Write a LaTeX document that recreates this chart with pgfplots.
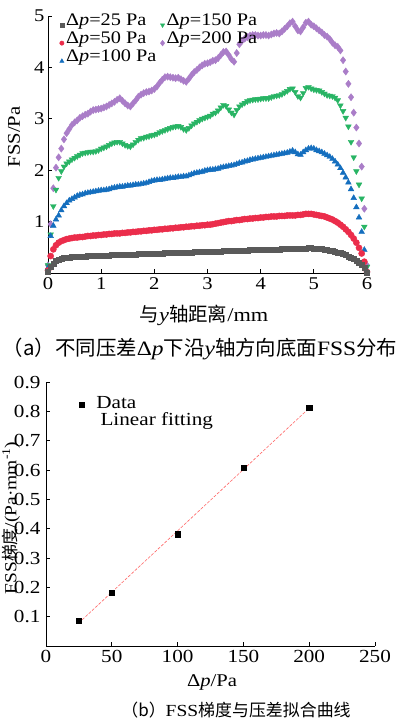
\documentclass[border=0pt]{standalone}
\usepackage{pgfplots}
\pgfplotsset{compat=1.18}
\usepackage{pgfplotstable}
\usepackage{fontspec}
\setmainfont{Liberation Serif}[FakeStretch=1.15]
\newfontfamily\cjk{Noto Sans CJK SC}
\newcommand{\C}[1]{{\cjk #1}}
\definecolor{cA}{RGB}{90,90,90}
\definecolor{cB}{RGB}{235,45,75}
\definecolor{cC}{RGB}{20,110,190}
\definecolor{cD}{RGB}{40,180,100}
\definecolor{cE}{RGB}{170,125,200}
\pgfplotstableread{
x a b c d e
0.00 0.02 0.05 0.10 0.15 0.15
0.05 0.13 0.33 0.72 0.75 0.95
0.10 0.19 0.46 0.92 1.30 1.65
0.15 0.23 0.54 1.04 1.62 2.05
0.20 0.26 0.59 1.12 1.85 2.25
0.25 0.28 0.62 1.22 1.98 2.42
0.30 0.29 0.64 1.30 2.07 2.60
0.35 0.30 0.66 1.36 2.13 2.72
0.40 0.30 0.67 1.41 2.17 2.80
0.45 0.31 0.68 1.44 2.21 2.88
0.50 0.31 0.69 1.47 2.24 2.93
0.55 0.32 0.69 1.50 2.27 2.97
0.60 0.32 0.70 1.52 2.30 3.02
0.65 0.32 0.70 1.53 2.33 3.05
0.70 0.32 0.71 1.55 2.34 3.08
0.75 0.33 0.72 1.56 2.35 3.10
0.80 0.33 0.72 1.57 2.36 3.14
0.85 0.33 0.73 1.58 2.36 3.17
0.90 0.33 0.73 1.59 2.37 3.18
0.95 0.34 0.74 1.60 2.39 3.19
1.00 0.34 0.74 1.61 2.42 3.20
1.05 0.34 0.75 1.61 2.44 3.22
1.10 0.34 0.75 1.62 2.46 3.24
1.15 0.34 0.76 1.63 2.49 3.27
1.20 0.35 0.76 1.65 2.52 3.30
1.25 0.35 0.77 1.66 2.54 3.33
1.30 0.35 0.77 1.67 2.55 3.37
1.35 0.35 0.77 1.68 2.55 3.40
1.40 0.35 0.78 1.68 2.52 3.35
1.45 0.36 0.78 1.69 2.49 3.30
1.50 0.36 0.79 1.70 2.47 3.26
1.55 0.36 0.79 1.70 2.46 3.24
1.60 0.36 0.80 1.71 2.50 3.30
1.65 0.36 0.80 1.72 2.55 3.36
1.70 0.37 0.81 1.72 2.59 3.43
1.75 0.37 0.81 1.73 2.62 3.47
1.80 0.37 0.82 1.74 2.63 3.50
1.85 0.37 0.82 1.75 2.65 3.52
1.90 0.37 0.83 1.77 2.66 3.53
1.95 0.38 0.83 1.79 2.68 3.55
2.00 0.38 0.84 1.80 2.69 3.58
2.05 0.38 0.84 1.81 2.71 3.63
2.10 0.38 0.85 1.81 2.74 3.70
2.15 0.38 0.85 1.82 2.76 3.76
2.20 0.39 0.86 1.83 2.78 3.81
2.25 0.39 0.86 1.84 2.80 3.82
2.30 0.39 0.87 1.85 2.82 3.81
2.35 0.39 0.87 1.85 2.84 3.80
2.40 0.39 0.88 1.86 2.85 3.79
2.45 0.40 0.88 1.87 2.86 3.80
2.50 0.40 0.89 1.87 2.84 3.77
2.55 0.40 0.89 1.88 2.80 3.74
2.60 0.40 0.90 1.88 2.78 3.72
2.65 0.40 0.90 1.90 2.82 3.78
2.70 0.40 0.91 1.92 2.87 3.85
2.75 0.41 0.91 1.94 2.91 3.91
2.80 0.41 0.92 1.95 2.94 3.95
2.85 0.41 0.92 1.96 2.97 4.00
2.90 0.41 0.93 1.97 3.00 4.04
2.95 0.41 0.93 1.99 3.02 4.07
3.00 0.41 0.94 2.00 3.04 4.08
3.05 0.42 0.94 2.01 3.06 4.10
3.10 0.42 0.95 2.01 3.10 4.13
3.15 0.42 0.96 2.02 3.12 4.14
3.20 0.42 0.97 2.03 3.16 4.18
3.25 0.42 0.98 2.05 3.22 4.24
3.30 0.43 0.99 2.06 3.27 4.30
3.35 0.43 1.00 2.07 3.25 4.31
3.40 0.43 1.01 2.08 3.18 4.24
3.45 0.43 1.01 2.09 3.12 4.16
3.50 0.43 1.02 2.10 3.08 4.11
3.55 0.44 1.03 2.12 3.17 4.28
3.60 0.44 1.03 2.14 3.24 4.45
3.65 0.44 1.04 2.15 3.28 4.52
3.70 0.44 1.05 2.17 3.31 4.56
3.75 0.44 1.05 2.18 3.34 4.59
3.80 0.45 1.06 2.20 3.36 4.62
3.85 0.45 1.06 2.21 3.37 4.63
3.90 0.45 1.07 2.22 3.38 4.63
3.95 0.45 1.07 2.23 3.38 4.62
4.00 0.45 1.08 2.24 3.39 4.62
4.05 0.45 1.08 2.25 3.40 4.63
4.10 0.46 1.09 2.26 3.40 4.63
4.15 0.46 1.09 2.27 3.40 4.62
4.20 0.46 1.10 2.28 3.42 4.64
4.25 0.46 1.10 2.29 3.44 4.66
4.30 0.46 1.10 2.30 3.45 4.67
4.35 0.46 1.11 2.31 3.46 4.66
4.40 0.47 1.11 2.32 3.48 4.70
4.45 0.47 1.11 2.33 3.51 4.75
4.50 0.47 1.12 2.34 3.54 4.80
4.55 0.47 1.12 2.36 3.58 4.86
4.60 0.47 1.12 2.38 3.59 4.89
4.65 0.47 1.12 2.35 3.52 4.80
4.70 0.48 1.13 2.31 3.44 4.72
4.75 0.48 1.13 2.30 3.41 4.70
4.80 0.48 1.14 2.35 3.50 4.78
4.85 0.48 1.15 2.39 3.60 4.87
4.90 0.49 1.15 2.42 3.62 4.89
4.95 0.49 1.15 2.43 3.59 4.83
5.00 0.48 1.14 2.42 3.57 4.80
5.05 0.48 1.13 2.39 3.56 4.76
5.10 0.47 1.12 2.37 3.55 4.72
5.15 0.47 1.11 2.35 3.52 4.68
5.20 0.46 1.10 2.32 3.49 4.63
5.25 0.45 1.08 2.29 3.46 4.60
5.30 0.44 1.06 2.26 3.45 4.55
5.35 0.43 1.04 2.22 3.44 4.48
5.40 0.42 1.01 2.17 3.41 4.43
5.45 0.40 0.98 2.11 3.36 4.40
5.50 0.39 0.94 2.04 3.26 4.33
5.55 0.37 0.90 1.95 3.15 4.14
5.60 0.35 0.85 1.86 3.02 3.92
5.65 0.32 0.80 1.76 2.85 3.68
5.70 0.30 0.74 1.63 2.55 3.42
5.75 0.27 0.67 1.46 2.25 3.12
5.80 0.24 0.59 1.28 1.98 2.83
5.85 0.20 0.49 1.08 1.72 2.52
5.90 0.16 0.38 0.80 1.45 2.07
5.95 0.10 0.22 0.45 0.90 1.25
6.00 0.01 0.02 0.05 0.12 0.15
}\fss
\pgfplotstableread{
x y
25 0.085
50 0.183
100 0.381
150 0.608
200 0.812
}\grad
\begin{document}
\begin{tikzpicture}
\useasboundingbox (0bp,0bp) rectangle (407bp,-723bp);
% ---------- top panel ----------
\begin{axis}[
  at={(48bp,-273bp)}, anchor=south west,
  scale only axis, width=319bp, height=257bp,
  xmin=0, xmax=6, ymin=0, ymax=5,
  axis x line*=bottom, axis y line*=left,
  axis line style={line width=0.9bp},
  tick align=inside, major tick length=4bp,
  tick style={line width=0.9bp, black},
  xtick={0,1,...,6}, ytick={1,2,...,5},
  /pgf/number format/assume math mode=true,
  ticklabel style={font=\fontsize{18}{18}\selectfont},
  xticklabel style={yshift=-1bp},
  clip=false,
  legend columns=2,
  legend style={at={(0.036,1.012)}, anchor=north west, draw=none, fill=none,
    font=\fontsize{17.7}{17.7}\selectfont, inner sep=0pt, row sep=2bp,
    nodes={inner sep=0pt, text height=12bp, text depth=4bp},
    /tikz/every even column/.append style={column sep=4bp},
    /tikz/every odd column/.append style={column sep=2bp}},
  legend cell align=left,
  legend image code/.code={\draw[#1] plot coordinates {(0bp,-4bp)};},
]
\addlegendimage{only marks, mark=square*, color=cA, mark size=1.9bp}
\addlegendentry{Δ\textit{p}=25 Pa}
\addlegendimage{only marks, mark=triangle*, mark options={rotate=180}, color=cD, mark size=2.4bp}
\addlegendentry{Δ\textit{p}=150 Pa}
\addlegendimage{only marks, mark=*, color=cB, mark size=2.2bp}
\addlegendentry{Δ\textit{p}=50 Pa}
\addlegendimage{only marks, mark=diamond*, color=cE, mark size=2.8bp}
\addlegendentry{Δ\textit{p}=200 Pa}
\addlegendimage{only marks, mark=triangle*, color=cC, mark size=2.4bp}
\addlegendentry{Δ\textit{p}=100 Pa}
\addplot[forget plot, only marks, mark=diamond*, color=cE, mark size=3.6bp] table[x=x,y=e] {\fss};
\addplot[forget plot, only marks, mark=triangle*, mark options={rotate=180}, color=cD, mark size=3.3bp] table[x=x,y=d] {\fss};
\addplot[forget plot, only marks, mark=triangle*, color=cC, mark size=3.3bp] table[x=x,y=c] {\fss};
\addplot[forget plot, only marks, mark=*, color=cB, mark size=3.1bp] table[x=x,y=b] {\fss};
\addplot[forget plot, only marks, mark=square*, color=cA, mark size=2.5bp] table[x=x,y=a] {\fss};
\end{axis}
\node[rotate=90, font=\fontsize{18}{18}\selectfont] at (14bp,-137bp) {FSS/Pa};
\node[font=\fontsize{19.5}{19.5}\selectfont] at (204bp,-315bp) {\C{与}\textit{y}\C{轴距离}/mm};
\node[font=\fontsize{20.5}{20.5}\selectfont] at (200bp,-349bp) {\C{（a）不同压差}Δ\textit{p}\C{下沿}\textit{y}\C{轴方向底面}FSS\C{分布}};
% ---------- bottom panel ----------
\node[rotate=90, font=\fontsize{17}{17}\selectfont] at (11bp,-518bp) {FSS\C{梯度}/(Pa·mm\textsuperscript{-1})};
\begin{axis}[
  at={(46bp,-646bp)}, anchor=south west,
  scale only axis, width=329bp, height=264bp,
  xmin=0, xmax=250, ymin=0, ymax=0.9,
  axis x line*=bottom, axis y line*=left,
  axis line style={line width=0.9bp},
  tick align=inside, major tick length=4bp,
  tick style={line width=0.9bp, black},
  xtick={0,50,...,250}, ytick={0.1,0.2,...,0.9},
  /pgf/number format/assume math mode=true,
  ticklabel style={font=\fontsize{18.5}{18.5}\selectfont},
  xticklabel style={yshift=-1bp},
  yticklabel style={xshift=-2bp, /pgf/number format/fixed, /pgf/number format/fixed zerofill, /pgf/number format/precision=1},
  clip=false,
  legend style={at={(0.1,0.946)}, anchor=north west, draw=none, fill=none,
    font=\fontsize{18.5}{18.5}\selectfont, inner sep=0pt,
    nodes={inner sep=0pt, text height=12bp, text depth=4bp},
    /tikz/every odd column/.append style={column sep=12bp}},
  legend cell align=left,
  legend image code/.code={\draw[#1] plot coordinates {(0bp,0bp)};},
]
\addplot[red!60, dash pattern=on 3bp off 1.5bp, line width=0.6bp, forget plot] coordinates {(25,0.079) (200,0.811)};
\addplot[only marks, mark=square*, black, mark size=2.6bp] table[x=x,y=y] {\grad};
\addlegendentry{Data}
\end{axis}
\node[anchor=west, font=\fontsize{18.5}{18.5}\selectfont] at (97bp,-421bp) {Linear fitting};
\node[font=\fontsize{18}{18}\selectfont] at (212bp,-682bp) {Δ\textit{p}/Pa};
\node[font=\fontsize{17}{17}\selectfont] at (236bp,-710bp) {\C{（b）}FSS\C{梯度与压差拟合曲线}};
\end{tikzpicture}
\end{document}
